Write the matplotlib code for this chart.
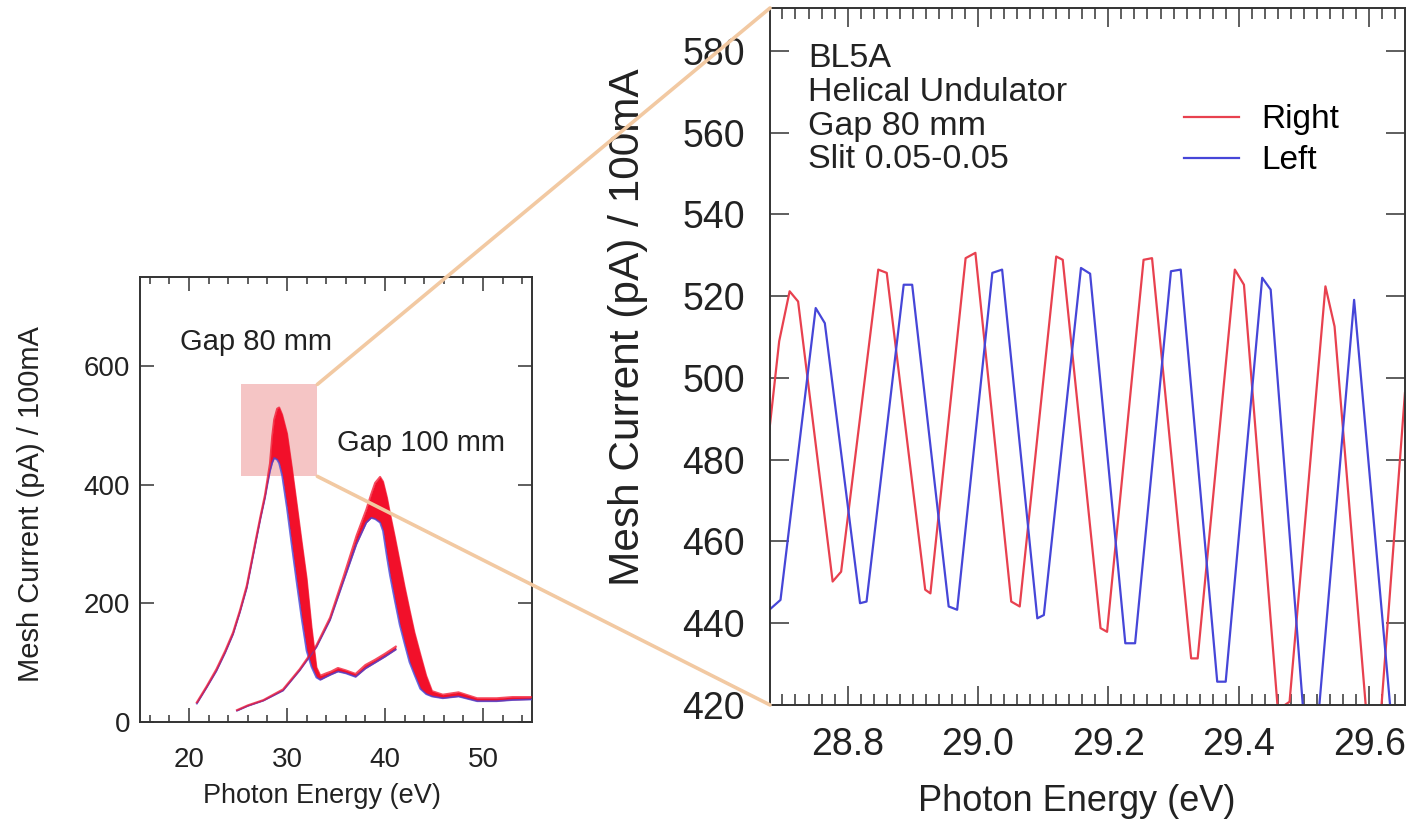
import numpy as np
import matplotlib.pyplot as plt
from matplotlib.patches import Rectangle, ConnectionPatch
from matplotlib.ticker import MultipleLocator

plt.rcParams['font.family'] = ['Liberation Sans', 'DejaVu Sans']

# overview panel: the Right/Left scans oscillate so fast they show as a band
# (lower edge ~ Left, upper edge ~ Right)
gap80_energy = [20.8, 21.8, 22.8, 23.7, 24.5, 25.2, 25.9, 26.4, 26.9, 27.3, 27.76, 28.0, 28.27, 28.5,
                28.7, 29.0, 29.2, 29.5, 30.0, 30.5, 31.0, 31.5, 32.0, 32.5, 33.0, 33.4, 34.0, 34.5,
                35.2, 36.0, 37.0, 38.0, 39.0, 40.0, 41.1]
gap80_low = [31, 58, 86, 117, 148, 185, 226, 268, 310, 343, 378, 400, 423, 437,
             445, 442, 436, 416, 360, 296, 234, 174, 120, 93, 75, 71, 76, 80,
             85, 82, 76, 90, 100, 110, 122]
gap80_high = [33, 60, 89, 120, 151, 188, 230, 272, 314, 347, 383, 408, 436, 482,
              510, 528, 530, 518, 486, 428, 366, 303, 242, 160, 92, 78, 82, 85,
              91, 87, 81, 96, 105, 115, 127]

gap100_energy = [24.9, 26.0, 27.6, 29.6, 31.3, 33.0, 34.4, 35.7, 37.1, 38.1, 38.6, 39.0, 39.5, 39.8,
                 40.2, 40.5, 41.0, 41.5, 42.0, 42.5, 43.0, 43.6, 44.2, 44.8, 45.9, 47.5, 49.4, 51.4,
                 53.0, 55.0]
gap100_low = [19, 27, 36, 53, 87, 126, 172, 234, 300, 336, 344, 342, 336, 322,
              278, 248, 205, 164, 132, 101, 80, 56, 47, 43, 40, 43, 35, 35,
              37, 38]
gap100_high = [20, 28, 37, 55, 89, 129, 176, 241, 314, 358, 384, 403, 413, 405,
               378, 352, 312, 270, 228, 189, 151, 114, 78, 52, 46, 50, 40, 40,
               42, 42]

# zoomed scan at Gap 80 mm, vertices
right_energy = [28.680, 28.695, 28.711, 28.724, 28.777, 28.790, 28.847, 28.860, 28.919, 28.927,
                28.981, 28.996, 29.051, 29.064, 29.120, 29.130, 29.188, 29.198, 29.254, 29.267,
                29.327, 29.337, 29.394, 29.408, 29.460, 29.478, 29.533, 29.547, 29.603, 29.612,
                29.655]
right_current = [487.3, 509.0, 521.2, 518.7, 450.2, 452.6, 526.5, 525.7, 448.2, 447.3,
                 529.3, 530.6, 445.3, 444.1, 529.7, 528.9, 438.8, 437.9, 528.9, 529.3,
                 431.4, 431.4, 526.5, 522.8, 418.8, 420.8, 522.4, 512.6, 404.0, 405.0,
                 496.3]

left_energy = [28.680, 28.697, 28.751, 28.765, 28.819, 28.829, 28.886, 28.899, 28.955, 28.968,
               29.022, 29.037, 29.091, 29.101, 29.158, 29.172, 29.226, 29.241, 29.296, 29.311,
               29.367, 29.380, 29.436, 29.449, 29.507, 29.514, 29.577, 29.660]
left_current = [443.3, 445.7, 517.1, 513.4, 444.9, 445.3, 522.8, 522.8, 444.1, 443.3,
                525.7, 526.5, 441.2, 442.0, 526.9, 525.5, 435.1, 435.1, 526.1, 526.5,
                425.7, 425.7, 524.5, 521.6, 402.0, 402.0, 519.1, 370.0]

zoom_x = (25.3, 33.1)
zoom_y = (414, 569)

red = '#e8414f'
blue = '#4646d8'
band_red = '#f2102a'
link = '#f2c9a2'

fig = plt.figure(figsize=(14.14, 8.21), dpi=100)
ax1 = fig.add_axes([0.0990, 0.1206, 0.2772, 0.5420])
ax2 = fig.add_axes([0.5446, 0.1413, 0.4490, 0.8490])

# ---- overview ----
ax1.add_patch(Rectangle((zoom_x[0], zoom_y[0]), zoom_x[1] - zoom_x[0], zoom_y[1] - zoom_y[0],
                        facecolor='#f5c5c5', edgecolor='none', zorder=0.5))
for e, lo, hi in [(gap80_energy, gap80_low, gap80_high),
                  (gap100_energy, gap100_low, gap100_high)]:
    ax1.fill_between(e, lo, hi, color=band_red, lw=0, zorder=2)
    ax1.plot(e, lo, color=blue, lw=1.3, alpha=0.8, zorder=3)
    ax1.plot(e, hi, color=band_red, lw=1.5, alpha=0.75, zorder=4)

ax1.text(19.1, 640, 'Gap 80 mm', fontsize=21, va='center', color='#222222')
ax1.text(35.1, 471, 'Gap 100 mm', fontsize=21, va='center', color='#222222')

ax1.set_xlim(15, 55)
ax1.set_ylim(0, 750)
ax1.xaxis.set_major_locator(MultipleLocator(10))
ax1.xaxis.set_minor_locator(MultipleLocator(2))
ax1.yaxis.set_major_locator(MultipleLocator(200))
ax1.tick_params(which='both', direction='in', top=True, right=True, width=1.1, colors='#333333',
                labelcolor='#222222')
ax1.tick_params(which='major', length=10, labelsize=20)
ax1.tick_params(which='minor', length=5)
ax1.tick_params(axis='x', pad=18)
ax1.tick_params(axis='y', pad=7)
ax1.set_xlabel('Photon Energy (eV)', fontsize=19.5, color='#222222')
ax1.set_ylabel('Mesh Current (pA) / 100mA', fontsize=21, color='#222222')
ax1.xaxis.set_label_coords(0.465, -0.138)
ax1.yaxis.set_label_coords(-0.242, 0.49)

# ---- zoom ----
ax2.plot(right_energy, right_current, color=red, lw=1.6, label='Right')
ax2.plot(left_energy, left_current, color=blue, lw=1.6, label='Left')
ax2.set_xlim(28.681, 29.655)
ax2.set_ylim(420, 590.5)
ax2.xaxis.set_major_locator(MultipleLocator(0.2))
ax2.xaxis.set_minor_locator(MultipleLocator(0.02))
ax2.yaxis.set_major_locator(MultipleLocator(20))
ax2.xaxis.set_major_formatter(lambda v, p: f'{v:.1f}')
ax2.tick_params(which='both', direction='in', top=True, right=True, width=1.1, colors='#333333',
                labelcolor='#222222')
ax2.tick_params(which='major', length=14, labelsize=27)
ax2.tick_params(which='minor', length=8)
ax2.tick_params(axis='x', pad=16)
ax2.tick_params(axis='y', pad=18)
ax2.set_xlabel('Photon Energy (eV)', fontsize=26, color='#222222')
ax2.set_ylabel('Mesh Current (pA) / 100mA', fontsize=30.5, color='#222222')
ax2.xaxis.set_label_coords(0.483, -0.113)
ax2.yaxis.set_label_coords(-0.192, 0.542)

ax2.text(0.06, 0.95, 'BL5A\nHelical Undulator\nGap 80 mm\nSlit 0.05-0.05', transform=ax2.transAxes,
         fontsize=24.5, va='top', ha='left', linespacing=1.12, color='#222222')
ax2.legend(loc='upper left', bbox_to_anchor=(0.605, 0.905), frameon=False, fontsize=24,
           handlelength=1.65, handletextpad=0.65, labelspacing=0.3)

for ax in (ax1, ax2):
    for s in ax.spines.values():
        s.set_linewidth(1.4)
        s.set_color('#333333')

# lines linking the highlighted box to the zoomed panel
for yb, yf in [(zoom_y[1], 1.0), (zoom_y[0], 0.0)]:
    con = ConnectionPatch(xyA=(zoom_x[1], yb), coordsA='data', axesA=ax1,
                          xyB=(0.0, yf), coordsB='axes fraction', axesB=ax2,
                          color=link, lw=2.6, zorder=5)
    fig.add_artist(con)

fig.savefig('out.png', dpi=100)
